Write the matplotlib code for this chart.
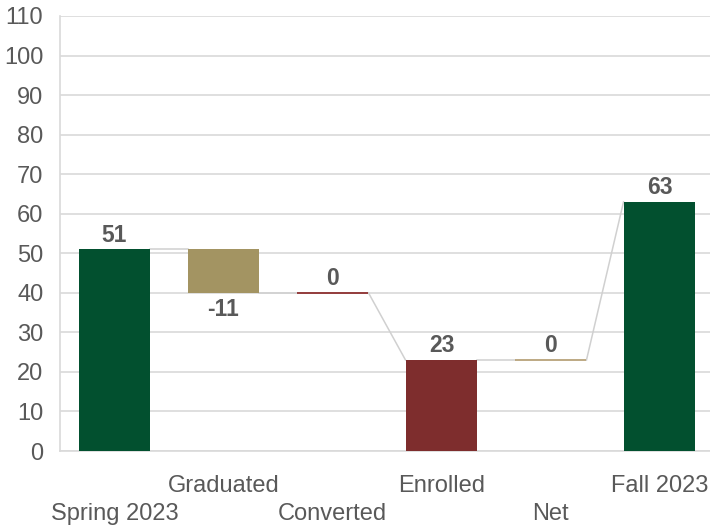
import matplotlib.pyplot as plt

# waterfall data
CATEGORIES = ['Spring 2023', 'Graduated', 'Converted', 'Enrolled', 'Net', 'Fall 2023']
VALUES = [51, -11, 0, 23, 0, 63]
# total bars start at zero and reset the running level
IS_TOTAL = [True, False, False, True, False, True]
COLORS = ['#02502F', '#A39462', '#8E2F2F', '#7E2D2D', '#B8A27A', '#02502F']

TEXT = '#595959'
GRID = '#D9D9D9'
FONT = 'Liberation Sans'
WIDTH = 0.66


def main():
    plt.rcParams['font.family'] = FONT
    fig = plt.figure(figsize=(7.1, 5.29), dpi=100)
    ax = fig.add_axes([60 / 710, 78 / 529, 654 / 710, 435 / 529])

    level = 0
    starts, ends = [], []
    for v, tot in zip(VALUES, IS_TOTAL):
        if tot:
            level = v
            starts.append(v)
        else:
            starts.append(level)
            level = level + v
        ends.append(level)

    for i, (v, tot) in enumerate(zip(VALUES, IS_TOTAL)):
        if tot:
            bottom, height = 0, v
        else:
            bottom = min(starts[i], ends[i])
            height = abs(v)
        if height == 0:
            ax.hlines(bottom, i - WIDTH / 2, i + WIDTH / 2, color=COLORS[i], lw=1.3, zorder=3)
        else:
            ax.bar(i, height, bottom=bottom, width=WIDTH, color=COLORS[i], zorder=3)

        # data label
        if v < 0:
            ax.annotate(str(v), (i, bottom), xytext=(0, -4), textcoords='offset points',
                        ha='center', va='top', fontsize=16.5, fontweight='bold', color=TEXT)
        else:
            ax.annotate(str(v), (i, bottom + height), xytext=(0, 2), textcoords='offset points',
                        ha='center', va='bottom', fontsize=16.5, fontweight='bold', color=TEXT)

    # connectors between bars
    for i in range(len(VALUES) - 1):
        ax.plot([i + WIDTH / 2, i + 1 - WIDTH / 2], [ends[i], starts[i + 1]],
                color='#D0D0D0', lw=1.1, zorder=2)

    ax.set_xlim(-0.5, len(CATEGORIES) - 0.5)
    ax.set_ylim(0, 110)
    ax.set_yticks(range(0, 111, 10))
    ax.grid(axis='y', color=GRID, lw=1.2, zorder=0)
    ax.tick_params(axis='y', length=0, pad=12, labelsize=17, labelcolor=TEXT)
    ax.set_xticks([])
    for side in ['top', 'right']:
        ax.spines[side].set_visible(False)
    for side in ['left', 'bottom']:
        ax.spines[side].set_color(GRID)
        ax.spines[side].set_linewidth(1.2)

    # staggered category labels
    for i, cat in enumerate(CATEGORIES):
        y = -0.094 if i % 2 else -0.159
        ax.text(i, y, cat, transform=ax.get_xaxis_transform(), ha='center', va='baseline',
                fontsize=17, color=TEXT)

    fig.savefig('out.png', dpi=100)


if __name__ == '__main__':
    main()
